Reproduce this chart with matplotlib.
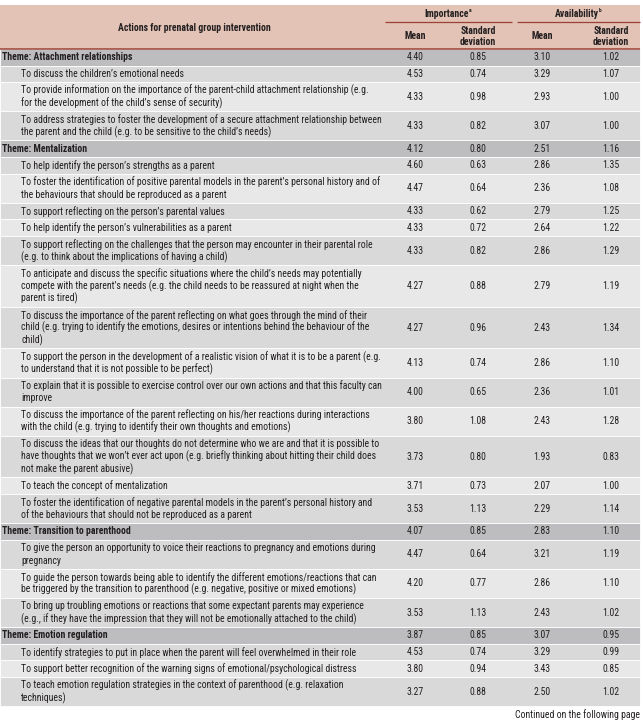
import matplotlib
matplotlib.use("Agg")
import matplotlib.pyplot as plt
from matplotlib import font_manager
from matplotlib.patches import Rectangle

# the reference uses a condensed face; take one if it is installed
family, stretch = "Liberation Sans", "normal"
cands = []
for f in font_manager.fontManager.ttflist:
    fn = f.fname.lower()
    if "extra" in fn or "ultra" in fn or "semi" in fn:
        continue
    if f.stretch == "condensed" or "Condensed" in f.name or "Narrow" in f.name:
        cands.append((f.name, f.stretch))
for pref in ["Roboto", "Noto Sans", "Liberation Sans", "Open Sans", "DejaVu Sans"]:
    hit = [c for c in cands if c[0].startswith(pref)]
    if hit:
        family, stretch = hit[0]
        break
plt.rcParams['font.family'] = [family, 'DejaVu Sans']
plt.rcParams['font.stretch'] = stretch

labels = [
    "Theme: Attachment relationships",
    "To discuss the children’s emotional needs",
    "To provide information on the importance of the parent-child attachment relationship (e.g.\nfor the development of the child’s sense of security)",
    "To address strategies to foster the development of a secure attachment relationship between\nthe parent and the child (e.g. to be sensitive to the child’s needs)",
    "Theme: Mentalization",
    "To help identify the person’s strengths as a parent",
    "To foster the identification of positive parental models in the parent’s personal history and of\nthe behaviours that should be reproduced as a parent",
    "To support reflecting on the person’s parental values",
    "To help identify the person’s vulnerabilities as a parent",
    "To support reflecting on the challenges that the person may encounter in their parental role\n(e.g. to think about the implications of having a child)",
    "To anticipate and discuss the specific situations where the child’s needs may potentially\ncompete with the parent’s needs (e.g. the child needs to be reassured at night when the\nparent is tired)",
    "To discuss the importance of the parent reflecting on what goes through the mind of their\nchild (e.g. trying to identify the emotions, desires or intentions behind the behaviour of the\nchild)",
    "To support the person in the development of a realistic vision of what it is to be a parent (e.g.\nto understand that it is not possible to be perfect)",
    "To explain that it is possible to exercise control over our own actions and that this faculty can\nimprove",
    "To discuss the importance of the parent reflecting on his/her reactions during interactions\nwith the child (e.g. trying to identify their own thoughts and emotions)",
    "To discuss the ideas that our thoughts do not determine who we are and that it is possible to\nhave thoughts that we won’t ever act upon (e.g. briefly thinking about hitting their child does\nnot make the parent abusive)",
    "To teach the concept of mentalization",
    "To foster the identification of negative parental models in the parent’s personal history and\nof the behaviours that should not be reproduced as a parent",
    "Theme: Transition to parenthood",
    "To give the person an opportunity to voice their reactions to pregnancy and emotions during\npregnancy",
    "To guide the person towards being able to identify the different emotions/reactions that can\nbe triggered by the transition to parenthood (e.g. negative, positive or mixed emotions)",
    "To bring up troubling emotions or reactions that some expectant parents may experience\n(e.g., if they have the impression that they will not be emotionally attached to the child)",
    "Theme: Emotion regulation",
    "To identify strategies to put in place when the parent will feel overwhelmed in their role",
    "To support better recognition of the warning signs of emotional/psychological distress",
    "To teach emotion regulation strategies in the context of parenthood (e.g. relaxation\ntechniques)",
]
is_theme = [l.startswith("Theme:") for l in labels]

imp_mean = [4.40, 4.53, 4.33, 4.33, 4.12, 4.60, 4.47, 4.33, 4.33, 4.33, 4.27, 4.27, 4.13,
            4.00, 3.80, 3.73, 3.71, 3.53, 4.07, 4.47, 4.20, 3.53, 3.87, 4.53, 3.80, 3.27]
imp_sd = [0.85, 0.74, 0.98, 0.82, 0.80, 0.63, 0.64, 0.62, 0.72, 0.82, 0.88, 0.96, 0.74,
          0.65, 1.08, 0.80, 0.73, 1.13, 0.85, 0.64, 0.77, 1.13, 0.85, 0.74, 0.94, 0.88]
av_mean = [3.10, 3.29, 2.93, 3.07, 2.51, 2.86, 2.36, 2.79, 2.64, 2.86, 2.79, 2.43, 2.86,
           2.36, 2.43, 1.93, 2.07, 2.29, 2.83, 3.21, 2.86, 2.43, 3.07, 3.29, 3.43, 2.50]
av_sd = [1.02, 1.07, 1.00, 1.00, 1.16, 1.35, 1.08, 1.25, 1.22, 1.29, 1.19, 1.34, 1.10,
         1.01, 1.28, 0.83, 1.00, 1.14, 1.10, 1.19, 1.10, 1.02, 0.95, 0.99, 0.85, 1.02]

# layout in pixels
W, H = 643, 726
fig = plt.figure(figsize=(W / 100, H / 100), dpi=100)
ax = fig.add_axes([0, 0, 1, 1])
ax.set_xlim(0, W)
ax.set_ylim(H, 0)
ax.axis("off")

# size the font so the longest line fits the width seen in the reference
probe = ax.text(0, 0, labels[3].split("\n")[0], fontsize=10)
fig.canvas.draw()
pw = probe.get_window_extent().width
probe.remove()
fs = min(7.6, 10 * 357 / pw)

left, right = 0, 640
head_top, head_bot = 5, 49
line_h, pad = 12.5, 2.06
col_x = [415, 478, 542, 611]
txt = "#231f20"
red = "#9b4236"

# header
ax.add_patch(Rectangle((left, head_top), right - left, head_bot - head_top,
                       facecolor="#e3c3b6", edgecolor="none"))
ax.text(194, 28, "Actions for prenatal group intervention", ha="center", va="center",
        fontsize=fs, fontweight="bold", color=txt)
for cx, name, sup, (x0, x1) in [((col_x[0] + col_x[1]) / 2, "Importance", "a", (385, 512)),
                                ((col_x[2] + col_x[3]) / 2, "Availability", "b", (517, 640))]:
    t = ax.text(cx, 14, name, ha="center", va="center", fontsize=fs, fontweight="bold", color=txt)
    ax.annotate(sup, xy=(1, 0.8), xycoords=t, xytext=(0.3, 0), textcoords="offset points",
                fontsize=fs * 0.55, fontweight="bold", color=txt, va="center", ha="left")
    ax.plot([x0, x1], [22, 22], color=red, lw=0.9, solid_capstyle="butt")
for i, cx in enumerate(col_x):
    if i % 2 == 0:
        ax.text(cx, 36, "Mean", ha="center", va="center", fontsize=fs, fontweight="bold", color=txt)
    else:
        ax.text(cx, 30.5, "Standard", ha="center", va="center", fontsize=fs, fontweight="bold", color=txt)
        ax.text(cx, 42, "deviation", ha="center", va="center", fontsize=fs, fontweight="bold", color=txt)

# body rows
y = head_bot
k = 0
for lab, th, a, b, c, d in zip(labels, is_theme, imp_mean, imp_sd, av_mean, av_sd):
    lines = lab.split("\n")
    h = line_h * len(lines) + 2 * pad
    if th:
        fc = "#bdbdbf"
        k = 0
    else:
        fc = "#d9d9da" if k % 2 == 0 else "#e8e8e8"
        k += 1
    ax.add_patch(Rectangle((left, y), right - left, h, facecolor=fc,
                           edgecolor="white", lw=0.6))
    yc = y + h / 2
    x_txt = 2 if th else 21
    for j, ln in enumerate(lines):
        ly = yc + (j - (len(lines) - 1) / 2) * line_h
        ax.text(x_txt, ly, ln, ha="left", va="center", fontsize=fs, color=txt,
                fontweight="bold" if th else "normal")
    for cx, v in zip(col_x, [a, b, c, d]):
        ax.text(cx, yc, f"{v:.2f}", ha="center", va="center", fontsize=fs, color=txt)
    y += h

ax.plot([left, right], [head_bot, head_bot], color=red, lw=1.1, solid_capstyle="butt")

ax.text(640, 715, "Continued on the following page", ha="right", va="center",
        fontsize=fs, color=txt)

fig.savefig("out.png", dpi=100)
